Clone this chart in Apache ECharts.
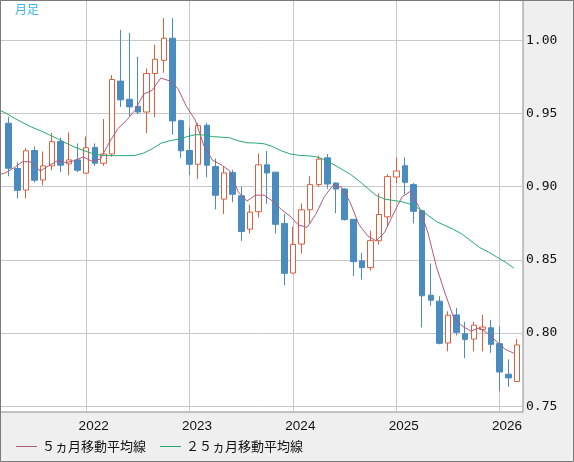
<!DOCTYPE html>
<html>
<head>
<meta charset="utf-8">
<script src="https://cdn.jsdelivr.net/npm/echarts@6/dist/echarts.min.js"></script>
<style>
html,body{margin:0;padding:0;background:#efefef;}
#c{width:574px;height:462px;}
</style>
</head>
<body>
<div id="c"></div>
<script>
// ---- data (monthly candles, Apr 2021 - Mar 2026) ----
const months = ['2021-04','2021-05','2021-06','2021-07','2021-08','2021-09','2021-10','2021-11','2021-12',
  '2022-01','2022-02','2022-03','2022-04','2022-05','2022-06','2022-07','2022-08','2022-09','2022-10','2022-11','2022-12',
  '2023-01','2023-02','2023-03','2023-04','2023-05','2023-06','2023-07','2023-08','2023-09','2023-10','2023-11','2023-12',
  '2024-01','2024-02','2024-03','2024-04','2024-05','2024-06','2024-07','2024-08','2024-09','2024-10','2024-11','2024-12',
  '2025-01','2025-02','2025-03','2025-04','2025-05','2025-06','2025-07','2025-08','2025-09','2025-10','2025-11','2025-12',
  '2026-01','2026-02','2026-03'];
const openV  = [0.9433,0.9124,0.8977,0.9247,0.9046,0.9142,0.9309,0.9156,0.9183,
  0.9092,0.9268,0.9160,0.9224,0.9721,0.9597,0.9549,0.9510,0.9773,0.9863,1.0014,0.9451,
  0.9247,0.9153,0.9419,0.9137,0.8915,0.9096,0.8938,0.8710,0.8829,0.9149,0.9099,0.8748,
  0.8410,0.8608,0.8842,0.9014,0.9197,0.9025,0.8984,0.8777,0.8493,0.8447,0.8631,0.8794,
  0.9066,0.9143,0.9014,0.8836,0.8259,0.8218,0.7932,0.8124,0.7995,0.7959,0.8025,0.8036,
  0.7928,0.7719,0.7669];
const closeV = [0.9126,0.8975,0.9245,0.9044,0.9142,0.9307,0.9147,0.9183,0.9112,
  0.9266,0.9160,0.9224,0.9732,0.9593,0.9545,0.9510,0.9773,0.9870,1.0014,0.9449,0.9245,
  0.9153,0.9417,0.9147,0.8941,0.9094,0.8948,0.8694,0.8826,0.9149,0.9094,0.8743,0.8408,
  0.8605,0.8842,0.9014,0.9188,0.9018,0.8984,0.8775,0.8488,0.8447,0.8631,0.8810,0.9069,
  0.9107,0.9030,0.8832,0.8255,0.8225,0.7930,0.8122,0.8005,0.7957,0.8054,0.8041,0.7923,
  0.7734,0.7694,0.7919];
const lowV   = [0.9071,0.8920,0.8920,0.9028,0.9009,0.9112,0.9099,0.9078,0.9099,
  0.9088,0.9142,0.9142,0.9204,0.9545,0.9483,0.9497,0.9366,0.9476,0.9778,0.9355,0.9195,
  0.9078,0.9053,0.9064,0.8845,0.8813,0.8893,0.8629,0.8680,0.8790,0.8883,0.8681,0.8326,
  0.8405,0.8544,0.8750,0.8998,0.8986,0.8819,0.8768,0.8390,0.8365,0.8427,0.8603,0.8727,
  0.9025,0.8948,0.8750,0.8038,0.8187,0.7923,0.7876,0.7984,0.7829,0.7876,0.7876,0.7865,
  0.7606,0.7633,0.7669];
const highV  = [0.9476,0.9167,0.9263,0.9275,0.9240,0.9368,0.9334,0.9371,0.9295,
  0.9343,0.9295,0.9462,0.9762,1.0071,1.0050,0.9886,0.9808,0.9970,1.0151,1.0151,0.9458,
  0.9405,0.9435,0.9437,0.9192,0.9137,0.9115,0.9000,0.8877,0.9227,0.9243,0.9099,0.8814,
  0.8727,0.8885,0.9071,0.9211,0.9223,0.9030,0.8989,0.8777,0.8548,0.8699,0.8956,0.9085,
  0.9200,0.9200,0.9025,0.8841,0.8475,0.8252,0.8149,0.8171,0.8077,0.8077,0.8124,0.8090,
  0.8045,0.7820,0.7959];

// moving averages, Mar 2021 - Mar 2026 (first point lies just left of the plot)
const maMonths = ['2021-03'].concat(months);
const ma5 = [0.9078,0.9095,0.9130,0.9172,0.9168,0.9106,0.9143,0.9177,0.9165,0.9178,
  0.9203,0.9174,0.9189,0.9299,0.9395,0.9451,0.9521,0.9631,0.9658,0.9742,0.9723,0.9670,
  0.9546,0.9456,0.9282,0.9181,0.9150,0.9109,0.8965,0.8901,0.8942,0.8942,0.8901,0.8844,
  0.8800,0.8738,0.8722,0.8811,0.8933,0.9009,0.8996,0.8891,0.8742,0.8665,0.8630,0.8689,
  0.8813,0.8929,0.8970,0.8859,0.8690,0.8454,0.8273,0.8107,0.8048,0.8014,0.8036,0.7996,
  0.7942,0.7889,0.7862];
const ma25 = [0.9530,0.9503,0.9468,0.9437,0.9407,0.9383,0.9356,0.9328,0.9298,0.9270,
  0.9248,0.9228,0.9215,0.9212,0.9212,0.9212,0.9213,0.9229,0.9258,0.9296,0.9313,0.9324,
  0.9340,0.9355,0.9353,0.9342,0.9338,0.9334,0.9313,0.9300,0.9298,0.9293,0.9274,0.9245,
  0.9224,0.9214,0.9211,0.9205,0.9185,0.9153,0.9120,0.9085,0.9040,0.8990,0.8940,0.8915,
  0.8906,0.8897,0.8880,0.8850,0.8805,0.8762,0.8735,0.8708,0.8675,0.8630,0.8585,0.8555,
  0.8520,0.8485,0.8444];

const yTicks = [0.75, 0.80, 0.85, 0.90, 0.95, 1.00];
const yearLabels = ['2022','2023','2024','2025','2026'];
const legendNames = ['５ヵ月移動平均線', '２５ヵ月移動平均線'];
const periodLabel = '月足';

// ---- helpers ----
function monthIndex(s) { const p = s.split('-'); return (+p[0] - 2021) * 12 + (+p[1] - 1); }
const yearIdx = yearLabels.map(y => (+y - 2021) * 12);
const candleData = months.map((m, k) => [monthIndex(m), openV[k], closeV[k], lowV[k], highV[k]]);
const maShift = 0.35;
const ma5Data = maMonths.map((m, k) => [monthIndex(m) - maShift, ma5[k]]);
const ma25Data = maMonths.map((m, k) => [monthIndex(m) - maShift, ma25[k]]);

const chart = echarts.init(document.getElementById('c'), null, {renderer: 'canvas'});
chart.setOption({
  animation: false,
  backgroundColor: '#efefef',
  title: {
    text: periodLabel, left: 15, top: 3, padding: 0,
    textStyle: {fontSize: 12, fontWeight: 'normal', color: '#3ab4f0', fontFamily: 'Noto Sans CJK JP'}
  },
  grid: {
    left: 0, top: 0, right: 51, bottom: 50,
    show: true, backgroundColor: '#ffffff', borderColor: '#8a8a8a', borderWidth: 1
  },
  legend: {
    data: legendNames, left: 16, top: 440, padding: 0, icon: 'rect', itemWidth: 21, itemHeight: 1, itemGap: 14,
    selectedMode: false,
    textStyle: {fontSize: 13, color: '#111', fontFamily: 'Noto Sans CJK JP'}
  },
  xAxis: {
    type: 'value', min: 1.99, max: 62.705,
    axisLine: {show: false},
    axisTick: {show: false, customValues: yearIdx},
    splitLine: {show: true, lineStyle: {color: '#c8c8c8', width: 1}},
    axisLabel: {
      customValues: yearIdx.map(v => v + 0.86),
      formatter: v => String(2021 + Math.floor(v / 12)),
      margin: 7, fontSize: 13.5, color: '#111', fontFamily: 'Liberation Sans'
    }
  },
  yAxis: {
    type: 'value', position: 'right', min: 0.7461, max: 1.0275,
    axisLine: {show: false},
    axisTick: {show: false, customValues: yTicks},
    splitLine: {show: true, lineStyle: {color: '#c8c8c8', width: 1}},
    axisLabel: {
      customValues: yTicks,
      formatter: v => v.toFixed(2),
      margin: 3, fontSize: 13, color: '#111', fontFamily: 'DejaVu Sans Mono'
    }
  },
  series: [
    {
      type: 'candlestick', name: 'price', data: candleData, barWidth: 6,
      itemStyle: {color: '#ffffff', color0: '#4a8bc0', borderColor: '#d9603f', borderColor0: '#4a8bc0', borderWidth: 1}
    },
    {
      type: 'line', name: legendNames[0], data: ma5Data, symbol: 'none', clip: true,
      lineStyle: {color: '#b0587f', width: 1}, itemStyle: {color: '#b0587f'}
    },
    {
      type: 'line', name: legendNames[1], data: ma25Data, symbol: 'none', clip: true,
      lineStyle: {color: '#27a970', width: 1}, itemStyle: {color: '#27a970'}
    }
  ],
  graphic: [{
    type: 'rect', z: 100, silent: true,
    shape: {x: 0.5, y: 0.5, width: 573, height: 461},
    style: {fill: null, stroke: '#7b7b7b', lineWidth: 1}
  }]
});
</script>
</body>
</html>
